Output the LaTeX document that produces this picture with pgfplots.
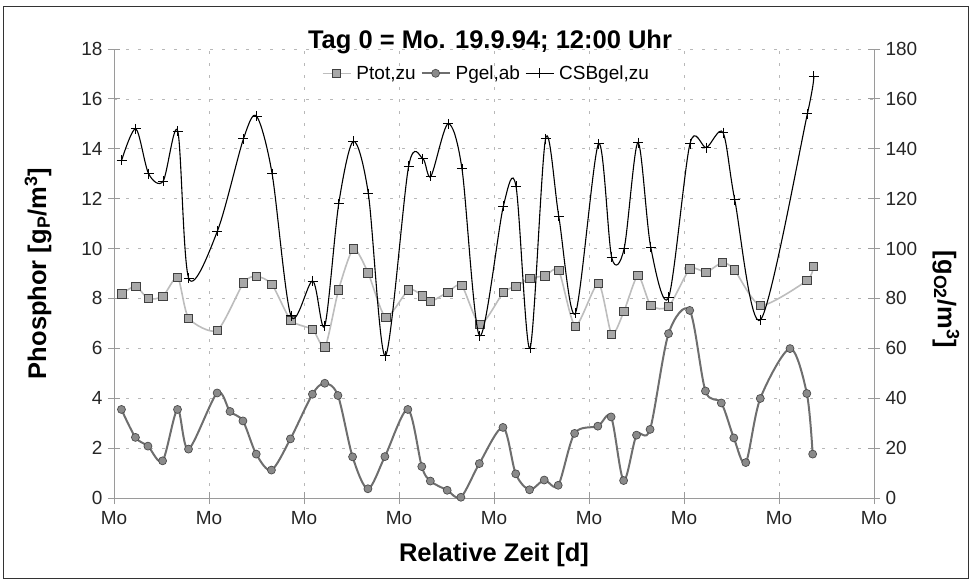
\documentclass[border=0pt]{standalone}
\usepackage{fontspec}
\setmainfont{Liberation Sans}
\usepackage{pgfplots}
\pgfplotsset{compat=1.18}

\definecolor{axisgray}{HTML}{9A9A9A}
\definecolor{gridgray}{HTML}{B8B8B8}
\definecolor{ptotline}{HTML}{BDBDBD}
\definecolor{ptotfill}{HTML}{A8A8A8}
\definecolor{pgelline}{HTML}{6E6E6E}
\definecolor{pgelfill}{HTML}{8A8A8A}

\newcommand{\tickfont}{\fontsize{19}{22}\selectfont}
\newcommand{\labelfont}{\bfseries\fontsize{25.5}{30}\selectfont}

\pgfplotsset{
  ptotstyle/.style={ptotline, line width=1.6pt, smooth, tension=0.4,
    mark=square*, mark size=4.2pt,
    mark options={solid, fill=ptotfill, draw=black!75, line width=0.8pt}},
  pgelstyle/.style={pgelline, line width=2pt, smooth, tension=0.5,
    mark=*, mark size=4pt,
    mark options={solid, fill=pgelfill, draw=black!70, line width=0.7pt}},
  csbstyle/.style={black, line width=1.1pt, smooth, tension=0.5,
    mark=+, mark size=5pt, mark options={solid, line width=0.9pt}},
  commonaxis/.style={
    scale only axis, width=760pt, height=449pt,
    xmin=0, xmax=56,
    /pgf/number format/assume math mode=true,
    tick label style={font=\tickfont, black!85},
    tick align=center, major tick length=12pt,
    every tick/.style={axisgray, line width=0.8pt},
    axis line style={axisgray, line width=0.9pt},
  },
}

\begin{document}
\begin{tikzpicture}
% left axis: phosphorus concentrations
\begin{axis}[commonaxis, name=main,
    axis x line*=bottom, axis y line*=left,
    ymin=0, ymax=18, ytick={0,2,...,18},
    xtick={0,7,...,56},
    xticklabels={Mo,Mo,Mo,Mo,Mo,Mo,Mo,Mo,Mo},
    xticklabel style={yshift=-4pt},
    yticklabel style={xshift=-2pt},
    grid=major,
    major grid style={gridgray, line width=0.7pt, dash pattern=on 3pt off 9pt},
  ]
\addplot[ptotstyle] coordinates {
(0.57,8.19) (1.60,8.48) (2.53,7.99) (3.61,8.09) (4.69,8.85) (5.50,7.21)
(7.61,6.72) (9.55,8.63) (10.51,8.89) (11.64,8.56) (13.04,7.12) (14.64,6.75)
(15.55,6.05) (16.55,8.35) (17.64,9.99) (18.72,9.03) (20.02,7.25) (21.71,8.35)
(22.72,8.11) (23.33,7.88) (24.59,8.25) (25.62,8.52) (26.97,6.95) (28.69,8.24)
(29.62,8.49) (30.65,8.81) (31.76,8.91) (32.77,9.12) (33.99,6.89) (35.69,8.61)
(36.67,6.56) (37.58,7.49) (38.61,8.92) (39.55,7.72) (40.87,7.68) (42.44,9.19)
(43.62,9.05) (44.83,9.44) (45.71,9.15) (47.65,7.72) (51.06,8.72) (51.53,9.28)
};
\addplot[pgelstyle] coordinates {
(0.55,3.55) (1.58,2.43) (2.50,2.08) (3.58,1.49) (4.68,3.55) (5.49,1.96)
(7.60,4.21) (8.55,3.47) (9.50,3.09) (10.48,1.76) (11.60,1.12) (13.00,2.37)
(14.62,4.16) (15.53,4.60) (16.50,4.11) (17.58,1.65) (18.71,0.37) (19.96,1.66)
(21.65,3.55) (22.68,1.26) (23.31,0.68) (24.55,0.31) (25.56,0.03) (26.92,1.38)
(28.66,2.83) (29.60,0.97) (30.62,0.33) (31.70,0.72) (32.73,0.51) (33.94,2.59)
(35.65,2.88) (36.63,3.25) (37.55,0.70) (38.50,2.52) (39.50,2.75) (40.86,6.59)
(42.42,7.52) (43.58,4.29) (44.75,3.81) (45.67,2.41) (46.55,1.42) (47.62,3.99)
(49.81,5.99) (51.05,4.19) (51.48,1.76)
};
\end{axis}
% right axis: COD
\begin{axis}[commonaxis,
    axis x line=none, axis y line*=right,
    ymin=0, ymax=180, ytick={0,20,...,180},
    yticklabel style={xshift=2pt},
    legend columns=3,
    legend style={at={(0.49,0.97)}, anchor=north, draw=none, fill=none,
      font=\tickfont, column sep=3pt, inner sep=1pt},
    legend image code/.code={\draw[mark repeat=2,mark phase=2,#1]
      plot coordinates {(0pt,0pt) (14pt,0pt) (28pt,0pt)};},
  ]
\addlegendimage{ptotstyle}
\addlegendentry{Ptot,zu}
\addlegendimage{pgelstyle}
\addlegendentry{Pgel,ab}
\addplot[csbstyle] coordinates {
(0.57,135.5) (1.61,148) (2.55,130) (3.62,127) (4.70,147) (5.51,88)
(7.62,107) (9.54,144) (10.51,153) (11.65,130) (13.04,73) (14.64,87)
(15.53,69) (16.56,118) (17.64,143) (18.74,122) (20.00,57) (21.71,133)
(22.76,136) (23.35,129) (24.61,150) (25.64,132) (26.94,65) (28.69,117)
(29.62,125) (30.65,60) (31.80,144) (32.77,113) (33.99,74) (35.70,142)
(36.67,96.5) (37.59,100) (38.61,142.5) (39.55,100.5) (40.87,80.5) (42.44,142)
(43.65,140.5) (44.87,146.5) (45.74,119.5) (47.65,71.5) (51.09,154) (51.56,169)
};
\addlegendentry{CSBgel,zu}
\end{axis}
% title, axis labels and outer frame
\node[anchor=base, font=\bfseries\fontsize{25.5}{30}\selectfont]
  at ([xshift=-4pt]main.north) {Tag 0 = Mo. 19.9.94; 12:00 Uhr};
\node[font=\labelfont] at ([yshift=-57pt]main.south) {Relative Zeit [d]};
\node[font=\labelfont, rotate=90] at ([xshift=-76pt]main.west)
  {Phosphor [g\textsubscript{P}/m\textsuperscript{3}]};
\node[font=\labelfont, rotate=-90] at ([xshift=72pt,yshift=-26pt]main.east)
  {[g\textsubscript{O2}/m\textsuperscript{3}]};
\draw[black!80, line width=1pt]
  ([xshift=-110pt,yshift=-80pt]main.south west) rectangle
  ([xshift=94pt,yshift=42pt]main.north east);
\path ([xshift=-114pt,yshift=-85pt]main.south west) rectangle
  ([xshift=98pt,yshift=49pt]main.north east);
\end{tikzpicture}
\end{document}
